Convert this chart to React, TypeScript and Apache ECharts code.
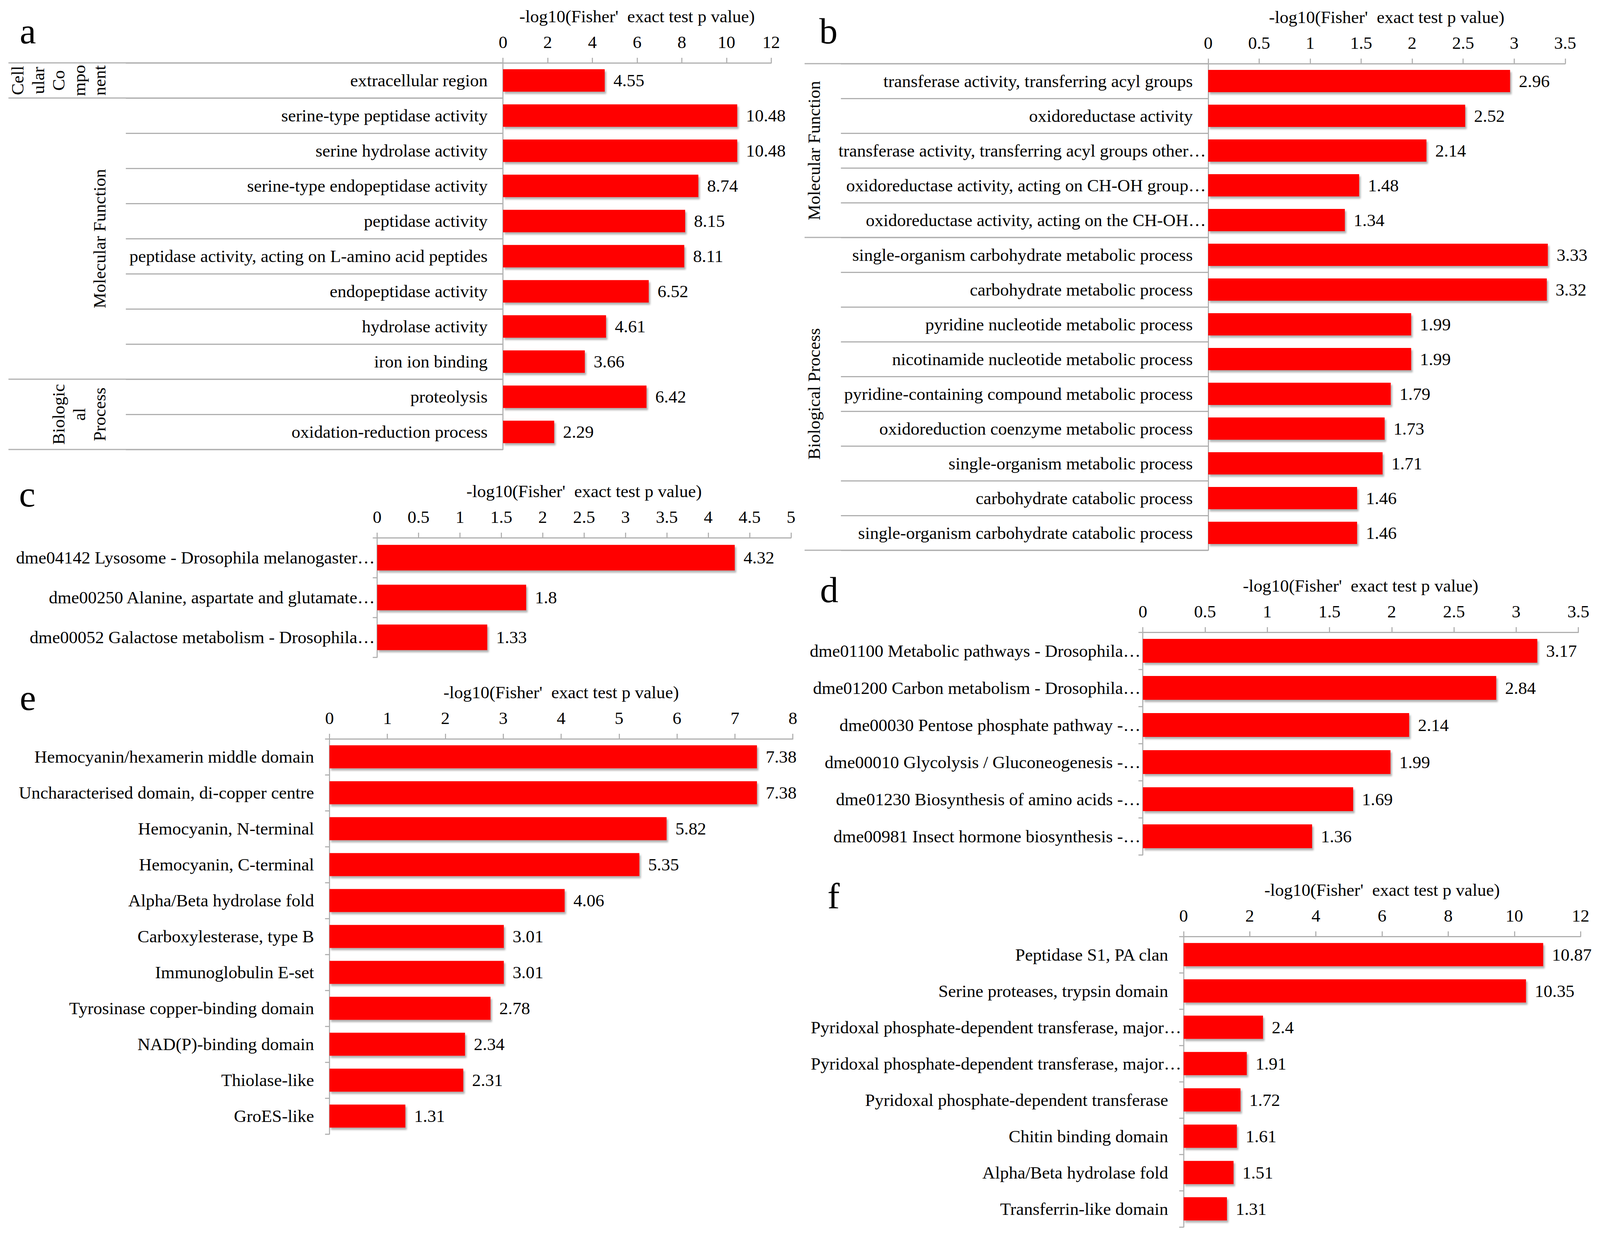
import { useEffect, useRef } from 'react'
import * as echarts from 'echarts'

const FONT = '"Liberation Serif", "Times New Roman", serif'
const LINE_GRAY = '#b0b0b0'
const AXIS_TITLE = "-log10(Fisher'  exact test p value)"
// layout below is written for a 4361 x 3183 figure and scaled to the real viewport
const REF_W = 4361
const REF_H = 3183

// a: GO terms, first list
const aTerms = [
  'extracellular region',
  'serine-type peptidase activity',
  'serine hydrolase activity',
  'serine-type endopeptidase activity',
  'peptidase activity',
  'peptidase activity, acting on L-amino acid peptides',
  'endopeptidase activity',
  'hydrolase activity',
  'iron ion binding',
  'proteolysis',
  'oxidation-reduction process',
]
const aValues = [4.55, 10.48, 10.48, 8.74, 8.15, 8.11, 6.52, 4.61, 3.66, 6.42, 2.29]
const aGroups = [
  { label: 'Cell\nular\nCo\nmpo\nnent', first: 0, last: 0 },
  { label: 'Molecular Function', first: 1, last: 8 },
  { label: 'Biologic\nal\nProcess', first: 9, last: 10 },
]

// b: GO terms, second list
const bTerms = [
  'transferase activity, transferring acyl groups',
  'oxidoreductase activity',
  'transferase activity, transferring acyl groups other…',
  'oxidoreductase activity, acting on CH-OH group…',
  'oxidoreductase activity, acting on the CH-OH…',
  'single-organism carbohydrate metabolic process',
  'carbohydrate metabolic process',
  'pyridine nucleotide metabolic process',
  'nicotinamide nucleotide metabolic process',
  'pyridine-containing compound metabolic process',
  'oxidoreduction coenzyme metabolic process',
  'single-organism metabolic process',
  'carbohydrate catabolic process',
  'single-organism carbohydrate catabolic process',
]
const bValues = [2.96, 2.52, 2.14, 1.48, 1.34, 3.33, 3.32, 1.99, 1.99, 1.79, 1.73, 1.71, 1.46, 1.46]
const bGroups = [
  { label: 'Molecular Function', first: 0, last: 4 },
  { label: 'Biological Process', first: 5, last: 13 },
]

// c: KEGG pathways
const cTerms = [
  'dme04142 Lysosome - Drosophila melanogaster…',
  'dme00250 Alanine, aspartate and glutamate…',
  'dme00052 Galactose metabolism - Drosophila…',
]
const cValues = [4.32, 1.8, 1.33]

// d: KEGG pathways
const dTerms = [
  'dme01100 Metabolic pathways - Drosophila…',
  'dme01200 Carbon metabolism - Drosophila…',
  'dme00030 Pentose phosphate pathway -…',
  'dme00010 Glycolysis / Gluconeogenesis -…',
  'dme01230 Biosynthesis of amino acids -…',
  'dme00981 Insect hormone biosynthesis -…',
]
const dValues = [3.17, 2.84, 2.14, 1.99, 1.69, 1.36]

// e: protein domains
const eTerms = [
  'Hemocyanin/hexamerin middle domain',
  'Uncharacterised domain, di-copper centre',
  'Hemocyanin, N-terminal',
  'Hemocyanin, C-terminal',
  'Alpha/Beta hydrolase fold',
  'Carboxylesterase, type B',
  'Immunoglobulin E-set',
  'Tyrosinase copper-binding domain',
  'NAD(P)-binding domain',
  'Thiolase-like',
  'GroES-like',
]
const eValues = [7.38, 7.38, 5.82, 5.35, 4.06, 3.01, 3.01, 2.78, 2.34, 2.31, 1.31]

// f: protein domains
const fTerms = [
  'Peptidase S1, PA clan',
  'Serine proteases, trypsin domain',
  'Pyridoxal phosphate-dependent transferase, major…',
  'Pyridoxal phosphate-dependent transferase, major…',
  'Pyridoxal phosphate-dependent transferase',
  'Chitin binding domain',
  'Alpha/Beta hydrolase fold',
  'Transferrin-like domain',
]
const fValues = [10.87, 10.35, 2.4, 1.91, 1.72, 1.61, 1.51, 1.31]

type Group = { label: string; first: number; last: number }
type Panel = {
  letter: string
  letterPos: [number, number]
  terms: string[]
  values: number[]
  max: number
  interval: number
  grid: { left: number; top: number; width: number; height: number }
  tickLen: number
  groups?: Group[]
  groupLeft?: number
  groupTextX?: number
}

const panels: Panel[] = [
  {
    letter: 'a', letterPos: [76, 79], terms: aTerms, values: aValues, max: 12, interval: 2,
    grid: { left: 1371, top: 161, width: 731, height: 990 }, tickLen: 1028,
    groups: aGroups, groupLeft: 23, groupTextX: 300,
  },
  {
    letter: 'b', letterPos: [2258, 79], terms: bTerms, values: bValues, max: 3.5, interval: 0.5,
    grid: { left: 3293, top: 163, width: 973, height: 1246 }, tickLen: 1001,
    groups: bGroups, groupLeft: 2193, groupTextX: 2247,
  },
  {
    letter: 'c', letterPos: [74, 1265], terms: cTerms, values: cValues, max: 5, interval: 0.5,
    grid: { left: 1028, top: 1377, width: 1128, height: 306 }, tickLen: 12,
  },
  {
    letter: 'd', letterPos: [2260, 1510], terms: dTerms, values: dValues, max: 3.5, interval: 0.5,
    grid: { left: 3115, top: 1619, width: 1187, height: 570 }, tickLen: 12,
  },
  {
    letter: 'e', letterPos: [76, 1786], terms: eTerms, values: eValues, max: 8, interval: 1,
    grid: { left: 898, top: 1892, width: 1263, height: 1012 }, tickLen: 12,
  },
  {
    letter: 'f', letterPos: [2272, 2294], terms: fTerms, values: fValues, max: 12, interval: 2,
    grid: { left: 3226, top: 2398, width: 1082, height: 744 }, tickLen: 12,
  },
]

function buildOption(sx: number, sy: number) {
  const fs = Math.min(sx, sy)
  const textBase = { fontFamily: FONT, fontSize: 48 * fs, color: '#000' }
  const lineStyle = { color: LINE_GRAY, width: 3 * fs }
  return {
    animation: false,
    backgroundColor: '#fff',
    grid: panels.map((p) => ({
      left: p.grid.left * sx,
      top: p.grid.top * sy,
      width: p.grid.width * sx,
      height: p.grid.height * sy,
      containLabel: false,
    })),
    xAxis: panels.map((p, i) => ({
      gridIndex: i,
      type: 'value',
      position: 'top',
      min: 0,
      max: p.max,
      interval: p.interval,
      name: AXIS_TITLE,
      nameLocation: 'middle',
      nameGap: 97 * sy,
      nameTextStyle: { ...textBase },
      axisLine: { show: true, lineStyle },
      axisTick: { show: true, length: 13 * sy, lineStyle },
      axisLabel: { ...textBase, margin: 31 * sy },
      splitLine: { show: false },
    })),
    yAxis: panels.map((p, i) => ({
      gridIndex: i,
      type: 'category',
      data: p.terms,
      inverse: true,
      axisLine: { show: true, lineStyle },
      axisTick: { show: true, interval: 0, length: p.tickLen * sx, lineStyle },
      axisLabel: {
        interval: 0,
        margin: 6 * sx,
        ...textBase,
        formatter: (v: string) => (v.endsWith('…') ? `{cut|${v}}` : `{full|${v}}`),
        rich: {
          cut: { ...textBase },
          full: { ...textBase, padding: [0, 36 * sx, 0, 0] },
        },
      },
    })),
    series: panels.map((p, i) => ({
      type: 'bar',
      xAxisIndex: i,
      yAxisIndex: i,
      data: p.values,
      barCategoryGap: '36%',
      itemStyle: {
        color: '#ff0000',
        shadowColor: 'rgba(0,0,0,0.3)',
        shadowBlur: 5 * fs,
        shadowOffsetX: 4 * fs,
        shadowOffsetY: 6 * fs,
      },
      label: { show: true, position: 'right', distance: 24 * sx, ...textBase },
    })),
  }
}

export default function App() {
  const hostRef = useRef<HTMLDivElement | null>(null)

  useEffect(() => {
    document.body.style.margin = '0'
    document.body.style.overflow = 'hidden'
    const host = hostRef.current
    if (!host) return
    const chart = echarts.init(host, undefined, { renderer: 'svg' })
    const sx = chart.getWidth() / REF_W
    const sy = chart.getHeight() / REF_H
    const fs = Math.min(sx, sy)
    chart.setOption(buildOption(sx, sy))

    // panel letters, group titles and separators of the grouped GO panels
    const graphic: any[] = []
    panels.forEach((p, i) => {
      graphic.push({
        type: 'text',
        x: p.letterPos[0] * sx,
        y: p.letterPos[1] * sy,
        style: {
          text: p.letter,
          fontFamily: FONT,
          fontSize: 100 * fs,
          fill: '#000',
          align: 'center',
          verticalAlign: 'middle',
        },
      })
      if (!p.groups) return
      const yc = (k: number) => chart.convertToPixel({ yAxisIndex: i }, k) as number
      const pitch = yc(1) - yc(0)
      const x0 = chart.convertToPixel({ xAxisIndex: i }, 0) as number
      const bounds = new Set<number>()
      p.groups.forEach((g) => {
        bounds.add(yc(g.first) - pitch / 2)
        bounds.add(yc(g.last) + pitch / 2)
        graphic.push({
          type: 'text',
          x: (p.groupTextX as number) * sx,
          y: (yc(g.first) + yc(g.last)) / 2,
          rotation: Math.PI / 2,
          style: {
            text: g.label,
            fontFamily: FONT,
            fontSize: 48 * fs,
            lineHeight: 56 * fs,
            fill: '#000',
            align: 'center',
            verticalAlign: 'bottom',
          },
        })
      })
      bounds.forEach((y) => {
        graphic.push({
          type: 'line',
          shape: { x1: (p.groupLeft as number) * sx, y1: y, x2: x0, y2: y },
          style: { stroke: LINE_GRAY, lineWidth: 3 * fs },
        })
      })
    })
    chart.setOption({ graphic })

    return () => {
      chart.dispose()
    }
  }, [])

  return <div ref={hostRef} style={{ width: '100vw', height: '100vh' }} />
}
